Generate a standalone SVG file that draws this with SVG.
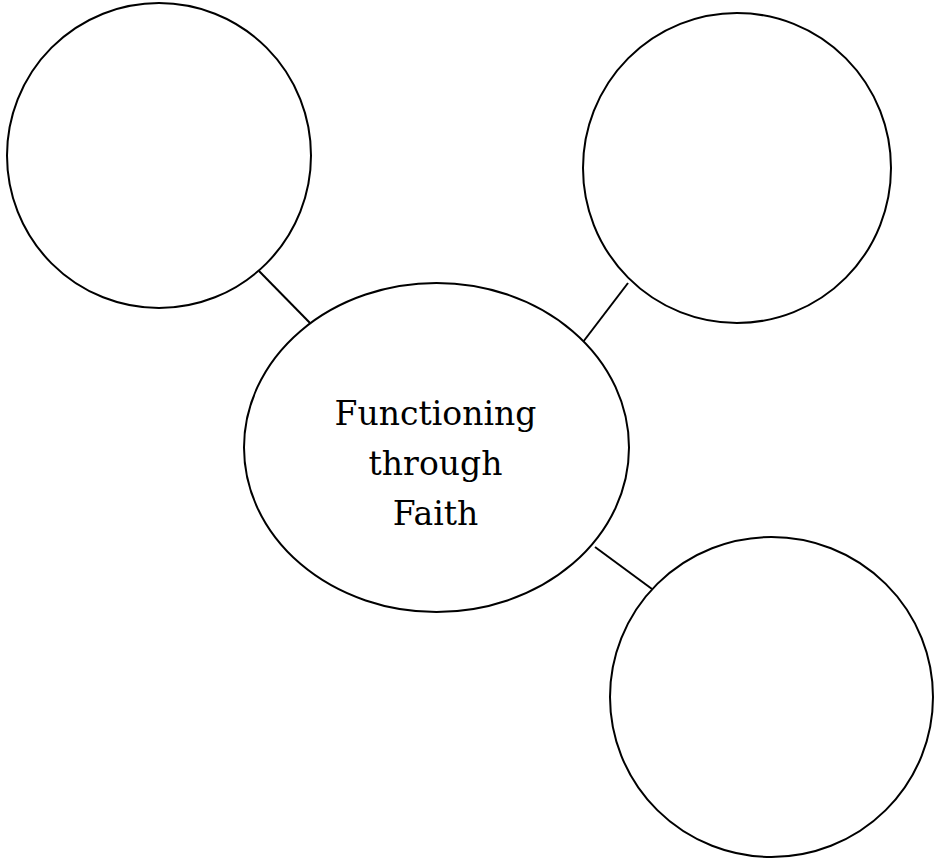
<svg xmlns="http://www.w3.org/2000/svg" width="934" height="859" viewBox="0 0 934 859">
<style>
.n{fill:#fff;stroke:#000;stroke-width:2}
.c{stroke:#000;stroke-width:2;fill:none}
.t{font-family:"DejaVu Serif","Liberation Serif",serif;font-size:33px;fill:#000;text-anchor:middle}
</style>
<rect width="934" height="859" fill="#fff"/>
<g id="connectors">
<line class="c" x1="259" y1="271" x2="310" y2="323"/>
<line class="c" x1="628" y1="283" x2="583" y2="342"/>
<line class="c" x1="595" y1="547" x2="652" y2="589"/>
</g>
<g id="node-top-left"><ellipse class="n" cx="159" cy="155.5" rx="152" ry="152.5"/></g>
<g id="node-top-right"><ellipse class="n" cx="737" cy="168" rx="154" ry="155"/></g>
<g id="node-bottom-right"><ellipse class="n" cx="771.5" cy="697" rx="161.5" ry="160"/></g>
<g id="node-center">
<ellipse class="n" cx="436.5" cy="447.5" rx="192.5" ry="164.5"/>
<text class="t" x="435.5" y="425">Functioning</text>
<text class="t" x="435.5" y="475">through</text>
<text class="t" x="435.5" y="525">Faith</text>
</g>
</svg>
